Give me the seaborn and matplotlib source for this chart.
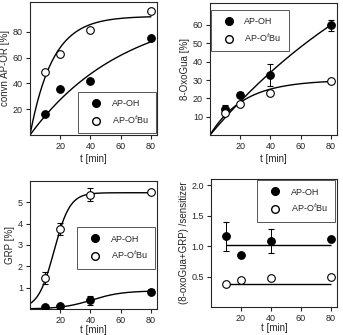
import numpy as np
import matplotlib
matplotlib.use("Agg")
import matplotlib.pyplot as plt
import seaborn as sns

# measured time points
t = [10, 20, 40, 80]

# panel a: conversion of AP-OR
conv_oh = [16, 36, 42, 75]
conv_otbu = [49, 63, 81, 96]

# panel b: 8-oxoGua
oxo_oh = [14, 22, 33, 60]
oxo_oh_err = [2.5, 1.5, 6, 3]
oxo_otbu = [12, 17, 23, 29.5]
oxo_otbu_err = [1, 1, 1, 1]

# panel c: GRP
grp_oh = [0.08, 0.13, 0.4, 0.82]
grp_oh_err = [0.03, 0.05, 0.2, 0.1]
grp_otbu = [1.45, 3.75, 5.35, 5.5]
grp_otbu_err = [0.3, 0.3, 0.3, 0.05]

# panel d: (8-oxoGua+GRP)/sensitizer
ratio_oh = [1.16, 0.85, 1.08, 1.11]
ratio_oh_err = [0.24, 0.03, 0.2, 0.03]
ratio_otbu = [0.37, 0.44, 0.47, 0.50]
ratio_otbu_err = [0.02, 0.02, 0.02, 0.02]
ratio_mean_oh = 1.01
ratio_mean_otbu = 0.38

# fitted curve parameters
fit_conv_oh = (100, 0.016)
fit_conv_otbu = (92, 1 / 15)
fit_oxo_oh = (140, 0.007)
fit_oxo_otbu = (30, 0.045)
fit_grp_oh = (0.85, 41, 10)
fit_grp_otbu = (5.45, 15.9, 5.24)

labels = ["AP-OH", "AP-O$^t$Bu"]


def expo(tt, a, k):
    return a * (1 - np.exp(-k * tt))


def logistic(tt, a, t0, s):
    return a / (1 + np.exp(-(tt - t0) / s))


sns.set_style("ticks")
plt.rcParams["font.family"] = ["Liberation Sans", "DejaVu Sans"]
plt.rcParams["font.size"] = 7
plt.rcParams["axes.linewidth"] = 0.8

W, H = 343, 335
fig = plt.figure(figsize=(W / 100, H / 100), dpi=100)


def box(l, r, top, bot):
    return fig.add_axes([l / W, (H - bot) / H, (r - l) / W, (bot - top) / H])


axes = [box(30, 157, 2, 135), box(210, 337, 3, 135),
        box(30, 157, 181, 309), box(211, 337, 179, 307)]

tt = np.linspace(0, 80, 200)


def points(ax, y, err, filled):
    ax.errorbar(t, y, yerr=err, fmt="o", ms=5.5, mec="black", mew=0.8,
                mfc="black" if filled else "white", ecolor="black",
                elinewidth=0.7, capsize=2.5, capthick=0.7, zorder=3)


def legend(ax, **kw):
    h = [plt.Line2D([], [], ls="", marker="o", ms=5.5, mec="black", mfc="black"),
         plt.Line2D([], [], ls="", marker="o", ms=5.5, mec="black", mfc="white")]
    leg = ax.legend(h, labels, fancybox=False, framealpha=1, edgecolor="#555555",
                    fontsize=6.5, handlelength=2.4, handletextpad=0.5,
                    borderpad=0.8, labelspacing=0.6, borderaxespad=0, **kw)
    leg.get_frame().set_linewidth(0.7)


# a
ax = axes[0]
sns.lineplot(x=tt, y=expo(tt, *fit_conv_oh), color="black", lw=1, ax=ax)
sns.lineplot(x=tt, y=expo(tt, *fit_conv_otbu), color="black", lw=1, ax=ax)
points(ax, conv_oh, None, True)
points(ax, conv_otbu, None, False)
ax.set_ylim(0, 103)
ax.set_yticks([20, 40, 60, 80])
ax.set_ylabel("convn AP-OR [%]", labelpad=2)
legend(ax, loc="lower right", bbox_to_anchor=(0.995, 0.015))

# b
ax = axes[1]
sns.lineplot(x=tt, y=expo(tt, *fit_oxo_oh), color="black", lw=1, ax=ax)
sns.lineplot(x=tt, y=expo(tt, *fit_oxo_otbu), color="black", lw=1, ax=ax)
points(ax, oxo_oh, oxo_oh_err, True)
points(ax, oxo_otbu, oxo_otbu_err, False)
ax.set_ylim(0, 72)
ax.set_yticks([10, 20, 30, 40, 50, 60])
ax.set_ylabel("8-OxoGua [%]", labelpad=2)
legend(ax, loc="upper left", bbox_to_anchor=(0.008, 0.947))

# c
ax = axes[2]
sns.lineplot(x=tt, y=logistic(tt, *fit_grp_oh), color="black", lw=1, ax=ax)
sns.lineplot(x=tt, y=logistic(tt, *fit_grp_otbu), color="black", lw=1, ax=ax)
points(ax, grp_oh, grp_oh_err, True)
points(ax, grp_otbu, grp_otbu_err, False)
ax.set_ylim(0, 6)
ax.set_yticks([1, 2, 3, 4, 5])
ax.set_ylabel("GRP [%]", labelpad=2)
legend(ax, loc="center right", bbox_to_anchor=(0.985, 0.477))

# d
ax = axes[3]
ax.hlines([ratio_mean_oh, ratio_mean_otbu], 10, 80, color="black", lw=1)
points(ax, ratio_oh, ratio_oh_err, True)
points(ax, ratio_otbu, ratio_otbu_err, False)
ax.set_ylim(0, 2.1)
ax.set_yticks([0.5, 1.0, 1.5, 2.0])
ax.set_yticklabels(["0.5", "1.0", "1.5", "2.0"])
ax.set_ylabel("(8-oxoGua+GRP) /sensitizer", labelpad=2)
legend(ax, loc="upper right", bbox_to_anchor=(0.985, 0.99))

for i, ax in enumerate(axes):
    ax.set_xlim(0, 84)
    ax.set_xticks([20, 40, 60, 80])
    ax.set_xlabel("t [min]", labelpad=2 if i < 2 else 0)
    ax.tick_params(length=3, width=0.8, pad=2, labelsize=6.5)
    for s in ax.spines.values():
        s.set_visible(True)

fig.savefig("out.png", dpi=100)
